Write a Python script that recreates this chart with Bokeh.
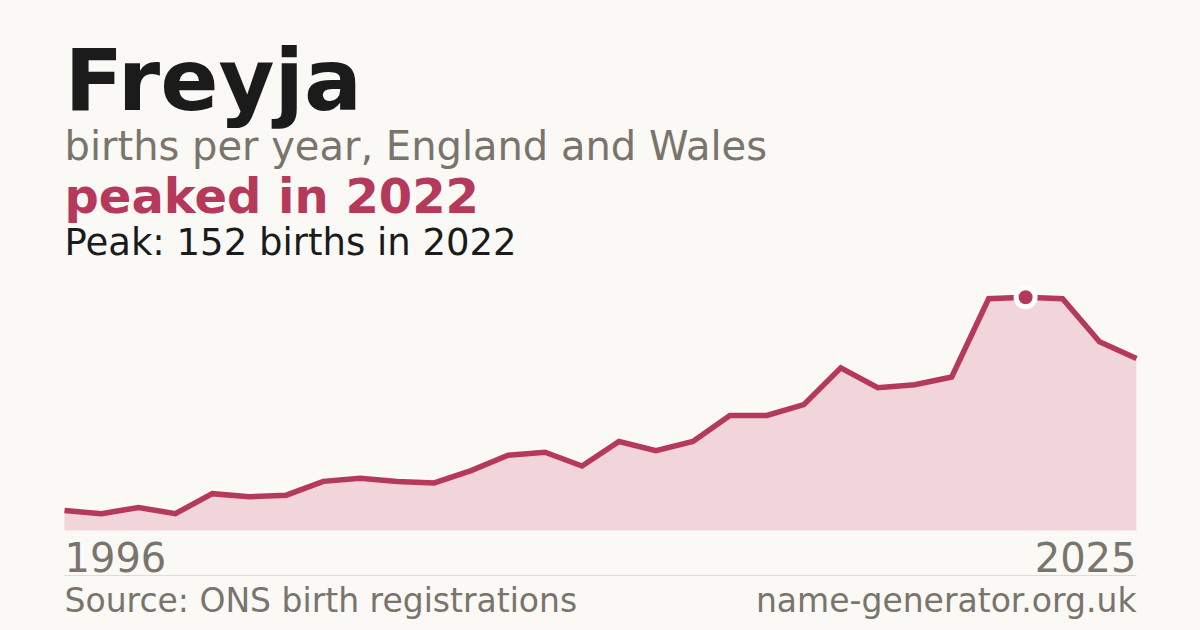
from bokeh.plotting import figure
from bokeh.models import Range1d, Label
from bokeh.embed import file_html
from bokeh.resources import INLINE

# ---- data ----
years = list(range(1996, 2026))
births = [13, 11, 15, 11, 24, 22, 23, 32, 34, 32, 31, 39, 49, 51, 42,
          58, 52, 58, 75, 75, 82, 106, 93, 95, 100, 151, 152, 151, 123, 112]
name = "Freyja"
subtitle = "births per year, England and Wales"
source_text = "Source: ONS birth registrations"
site_text = "name-generator.org.uk"

# ---- styling ----
BG = "#faf9f5"
LINE = "#b5395a"
FILL = "#f1d5db"
DARK = "#1b1b1b"
GREY = "#79746c"
RULE = "#e0dcd3"
FONT = "DejaVu Sans"

W, H = 1200, 630
MARGIN = 0
LEFT_PX, RIGHT_PX = 64, 1136     # page px of first / last year
BASE_PX, TOP_PX = 530, 296.7     # page px of zero and of the maximum
BASELINE_FIX = 0.40              # label anchor correction (fraction of font size)

peak_i = max(range(len(births)), key=lambda i: births[i])
peak_year, peak_val = years[peak_i], births[peak_i]

ppx = (RIGHT_PX - LEFT_PX) / (years[-1] - years[0])
ppy = (BASE_PX - TOP_PX) / peak_val
x0 = years[0] - (LEFT_PX - MARGIN) / ppx
x1 = years[-1] + (MARGIN + W - RIGHT_PX) / ppx
y0 = -(MARGIN + H - BASE_PX) / ppy
y1 = (BASE_PX - MARGIN) / ppy


def dx(page_x):
    return years[0] + (page_x - LEFT_PX) / ppx


def dy(page_y):
    return (BASE_PX - page_y) / ppy


p = figure(width=W, height=H, output_backend="svg", toolbar_location=None,
           x_range=Range1d(x0, x1), y_range=Range1d(y0, y1),
           x_axis_type=None, y_axis_type=None, min_border=0,
           background_fill_color=BG, border_fill_color=BG, outline_line_color=None)
p.grid.visible = False

p.varea(x=years, y1=[0] * len(years), y2=births, fill_color=FILL)
p.line(years, births, line_color=LINE, line_width=5.5, line_join="miter")
p.scatter([peak_year], [peak_val], size=19, fill_color=LINE,
          line_color="white", line_width=5)

p.segment(x0=[years[0]], x1=[years[-1]], y0=[dy(575)], y1=[dy(575)],
          line_color=RULE, line_width=1)


def lab(text, px, py, size, color, bold=False, align="left"):
    p.add_layout(Label(x=dx(px), y=dy(py - BASELINE_FIX * size), text=text,
                       text_font=FONT, text_font_size=f"{size}px", text_color=color,
                       text_font_style="bold" if bold else "normal",
                       text_align=align, text_baseline="alphabetic"))


lab(name, 64, 114, 86, DARK, bold=True)
lab(subtitle, 64, 161, 40, GREY)
lab(f"peaked in {peak_year}", 64, 215, 48, LINE, bold=True)
lab(f"Peak: {peak_val} births in {peak_year}", 64, 257, 37, DARK)
lab(str(years[0]), 64, 572, 40, GREY)
lab(str(years[-1]), 1136, 572, 40, GREY, align="right")
lab(source_text, 64, 613, 33, GREY)
lab(site_text, 1136, 613, 33, GREY, align="right")

html = file_html(p, INLINE, title=name)
html = html.replace("</head>", f"<style>body{{background:{BG};}}</style></head>", 1)
open("out.html", "w").write(html)
